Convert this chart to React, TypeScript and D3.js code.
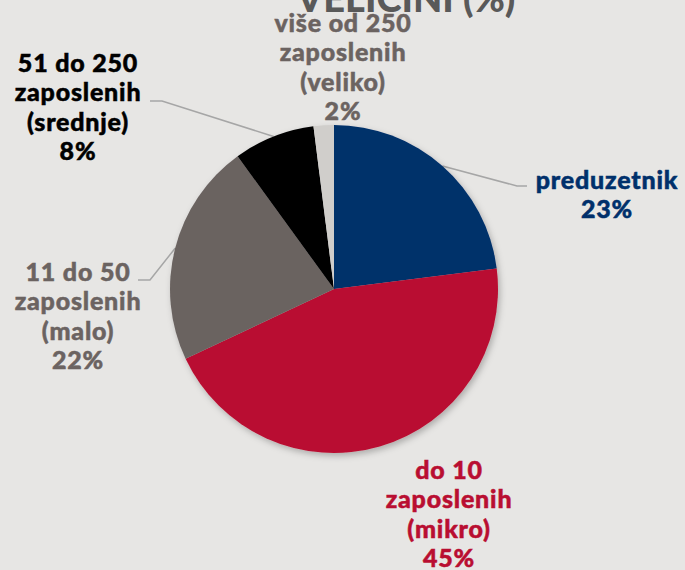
import React, { useEffect, useRef } from 'react';
import * as d3 from 'd3';

const W = 685;
const H = 570;

// slice data, clockwise from 12 o'clock
const categories = ['preduzetnik', 'do 10 zaposlenih (mikro)', '11 do 50 zaposlenih (malo)', '51 do 250 zaposlenih (srednje)', 'više od 250 zaposlenih (veliko)'];
const shares = [23, 45, 22, 8, 2];
const sliceColors = ['#00306b', '#b90e31', '#6b6361', '#000000', '#d0cecb'];
const labelColors = ['#00306b', '#b90e31', '#6b6361', '#000000', '#6b6361'];
const labelLines = [
  ['preduzetnik'],
  ['do 10', 'zaposlenih', '(mikro)'],
  ['11 do 50', 'zaposlenih', '(malo)'],
  ['51 do 250', 'zaposlenih', '(srednje)'],
  ['više od 250', 'zaposlenih', '(veliko)'],
];
// label block anchors (center x, first line center y)
const labelPos = [
  [607, 180],
  [449, 470],
  [78, 272],
  [78, 63],
  [343, 23],
];
// leader elbows: [elbow, end] or null
const leaders = [
  [[517, 186], [527, 186]],
  null,
  [[150, 280], [138, 280]],
  [[162, 101], [150, 101]],
  null,
];

const App = () => {
  const ref = useRef<SVGSVGElement>(null);

  useEffect(() => {
    const svg = d3.select(ref.current);
    svg.selectAll('*').remove();

    const cx = 334;
    const cy = 289;
    const r = 164;
    const font = 'Lato, "Open Sans", sans-serif';

    svg.append('rect').attr('width', W).attr('height', H).attr('fill', '#e7e6e4');

    const defs = svg.append('defs');
    const f = defs.append('filter').attr('id', 'shadow').attr('x', '-20%').attr('y', '-20%').attr('width', '140%').attr('height', '140%');
    f.append('feDropShadow').attr('dx', 2).attr('dy', 3).attr('stdDeviation', 3).attr('flood-color', '#000').attr('flood-opacity', 0.25);

    // partial title at the top (cut off, as in the source)
    svg.append('text')
      .attr('x', 406).attr('y', 12)
      .attr('text-anchor', 'middle')
      .attr('font-family', font).attr('font-weight', 900)
      .attr('font-size', 38).attr('fill', '#595959')
      .text('VELIČINI (%)');

    const pie = d3.pie<number>().sort(null).value((d) => d);
    const arcs = pie(shares);
    const arc = d3.arc<d3.PieArcDatum<number>>().innerRadius(0).outerRadius(r);

    // leader lines
    const lg = svg.append('g');
    arcs.forEach((a, i) => {
      const l = leaders[i];
      if (!l) return;
      const mid = (a.startAngle + a.endAngle) / 2;
      const p0: [number, number] = [cx + r * Math.sin(mid), cy - r * Math.cos(mid)];
      lg.append('path')
        .attr('d', d3.line()([p0, l[0] as [number, number], l[1] as [number, number]]))
        .attr('fill', 'none').attr('stroke', '#a6a6a6').attr('stroke-width', 1.5);
    });

    const g = svg.append('g').attr('transform', `translate(${cx},${cy})`).attr('filter', 'url(#shadow)');
    g.selectAll('path')
      .data(arcs)
      .enter()
      .append('path')
      .attr('d', arc)
      .attr('fill', (_, i) => sliceColors[i]);

    // labels
    const lineH = 29.5;
    arcs.forEach((a, i) => {
      const lines = [...labelLines[i], `${a.data}%`];
      const t = svg.append('text')
        .attr('text-anchor', 'middle')
        .attr('font-family', font).attr('font-weight', 900)
        .attr('font-size', 25).attr('letter-spacing', 0.8)
        .attr('fill', labelColors[i])
        .attr('stroke', labelColors[i]).attr('stroke-width', 0.5);
      lines.forEach((s, k) => {
        t.append('tspan')
          .attr('x', labelPos[i][0])
          .attr('y', labelPos[i][1] + k * lineH)
          .attr('dy', '0.35em')
          .text(s);
      });
    });
  }, []);

  return (
    <div style={{ position: 'absolute', left: 0, top: 0 }}>
      <svg ref={ref} width={W} height={H} style={{ display: 'block' }} />
    </div>
  );
};

export default App;
